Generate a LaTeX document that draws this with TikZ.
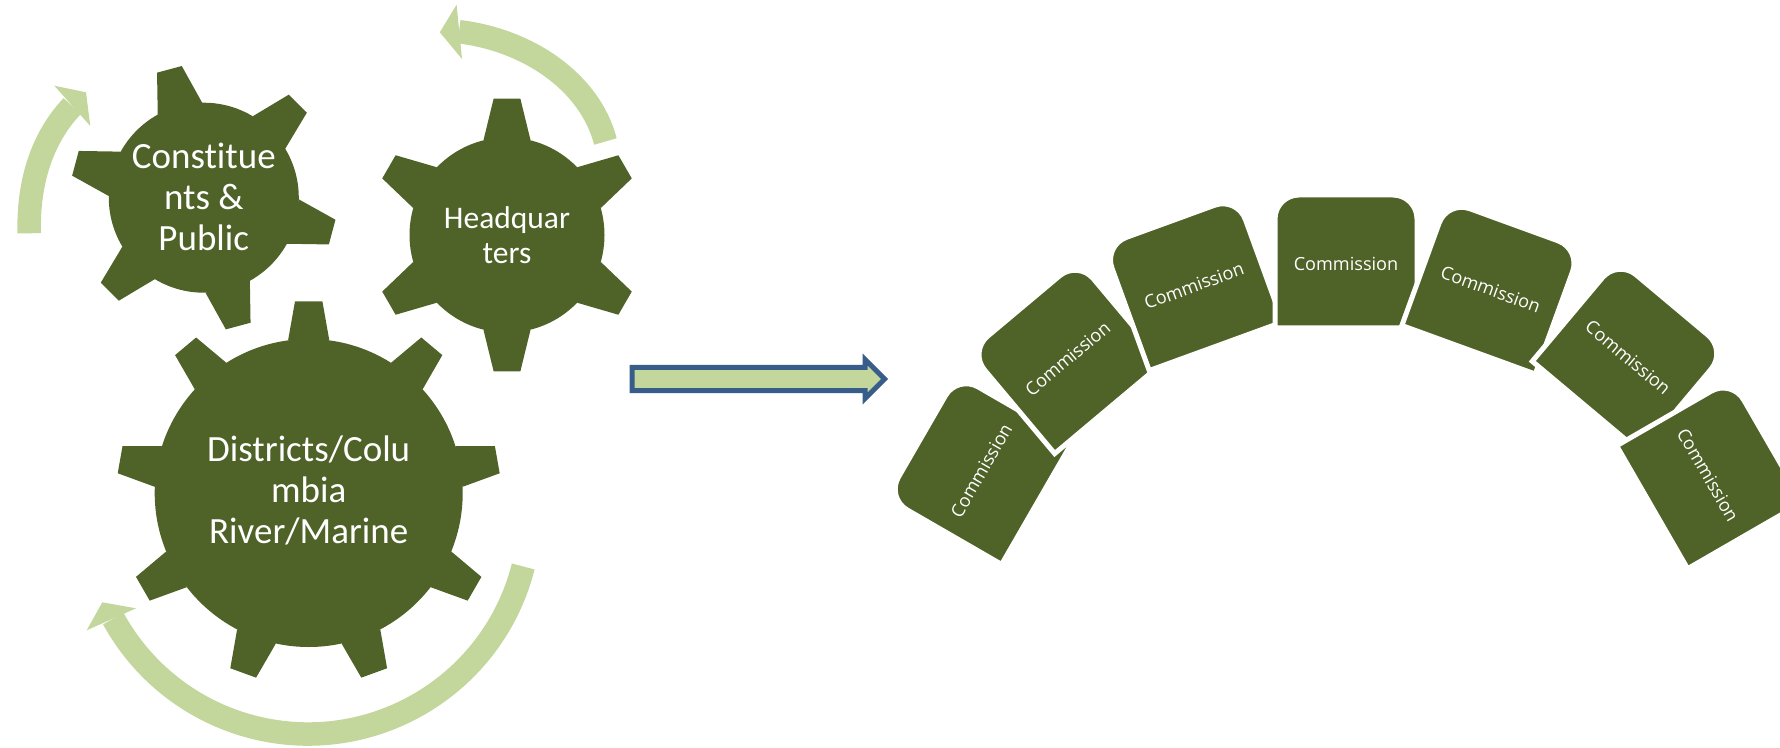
\documentclass[tikz,border=0pt]{standalone}
\usepackage{fontspec}
\usepackage{tikz}
\usetikzlibrary{shapes.arrows}
\newfontfamily\gearfont[Ligatures=NoCommon]{Carlito}
\newfontfamily\commfont{Open Sans}
\definecolor{gearolive}{HTML}{4F6228}
\definecolor{arcgreen}{HTML}{C3D69B}
\definecolor{shiftblue}{HTML}{385D8A}
\tikzset{
  gearbig/.style={text=white,align=center,inner sep=0pt,font=\gearfont\fontsize{18.5}{20.5}\selectfont},
  gearsmall/.style={text=white,align=center,inner sep=0pt,font=\gearfont\fontsize{15.75}{17.5}\selectfont},
  commtext/.style={text=white,inner sep=0pt,font=\commfont\fontsize{9.05}{11}\selectfont},
  flowarc/.style={draw=arcgreen,line width=11.75pt},
  flowhead/.style={fill=arcgreen},
}
\newcommand{\gearshape}[6]{%
  \begin{scope}[shift={#1}]
    \fill[gearolive] (0,0) circle (#2);
    \foreach \a in {#6} \fill[gearolive] (\a-#5:#2) -- (\a-#4:#3) -- (\a+#4:#3) -- (\a+#5:#2) -- cycle;
  \end{scope}}
\begin{document}
\begin{tikzpicture}[x=.5pt,y=.5pt]
\useasboundingbox (0,0) rectangle (1780,-748);
\gearshape{(203.8,-197.7)}{95}{133.5}{5.5}{14}{45,105,...,345}
\gearshape{(507,-235)}{97.5}{137}{5.6}{14}{30,90,...,330}
\gearshape{(308.7,-493)}{154}{192}{4.1}{7.7}{90,130,...,410}
\node[gearbig] (G1) at (203.8,-197) {Constitue\\nts \&\\Public};
\node[gearsmall] (G2) at (507,-235) {Headquar\\ters};
\node[gearbig] (G3) at (308.7,-490) {Districts/Colu\\mbia\\River/Marine};

\draw[flowarc] (29.2,-233.3) .. controls (28,-186) and (40,-140) .. (72.2,-106.1);
\fill[flowhead] (54.3,-85.7) -- (86,-92.3) -- (90.3,-126) -- cycle;
\draw[flowarc] (605.4,-141.5) .. controls (590,-82) and (528,-40) .. (459,-31.7);
\fill[flowhead] (456.6,-4.7) -- (439.8,-32.3) -- (462,-59) -- cycle;
\draw[flowarc] ([shift={(-14.2:222)}]308,-512) arc[start angle=-14.2,end angle=-151.3,radius=222];
\fill[flowhead] (136,-608.3) -- (102.3,-602.3) -- (86.7,-630.3) -- cycle;

\node[single arrow,draw=shiftblue,fill=arcgreen,line width=2.5pt,minimum height=126.25pt,minimum width=17pt,inner sep=4.6pt,single arrow head extend=3.9pt] (S) at (752.5,-379) {};

\foreach \n/\x/\y/\r in {C1/979.5/-469.7/60,C2/1066.3/-357/40,C3/1193.2/-283.8/20,C4/1346/-261.5/0,C5/1491.3/-287.3/-20,C6/1629.4/-356/-40,C7/1709.7/-474/-60}{
  \begin{scope}[shift={(\x,\y)},rotate=\r]
    \filldraw[fill=gearolive,draw=white,line width=2.5pt] (-71,-66.5) [rounded corners=12pt] -- (-71,66.5) -- (71,66.5) [sharp corners] -- (71,-66.5) -- cycle;
    \node[commtext,rotate=\r] (\n) at (0,-2) {Commission};
  \end{scope}}
\end{tikzpicture}
\end{document}
